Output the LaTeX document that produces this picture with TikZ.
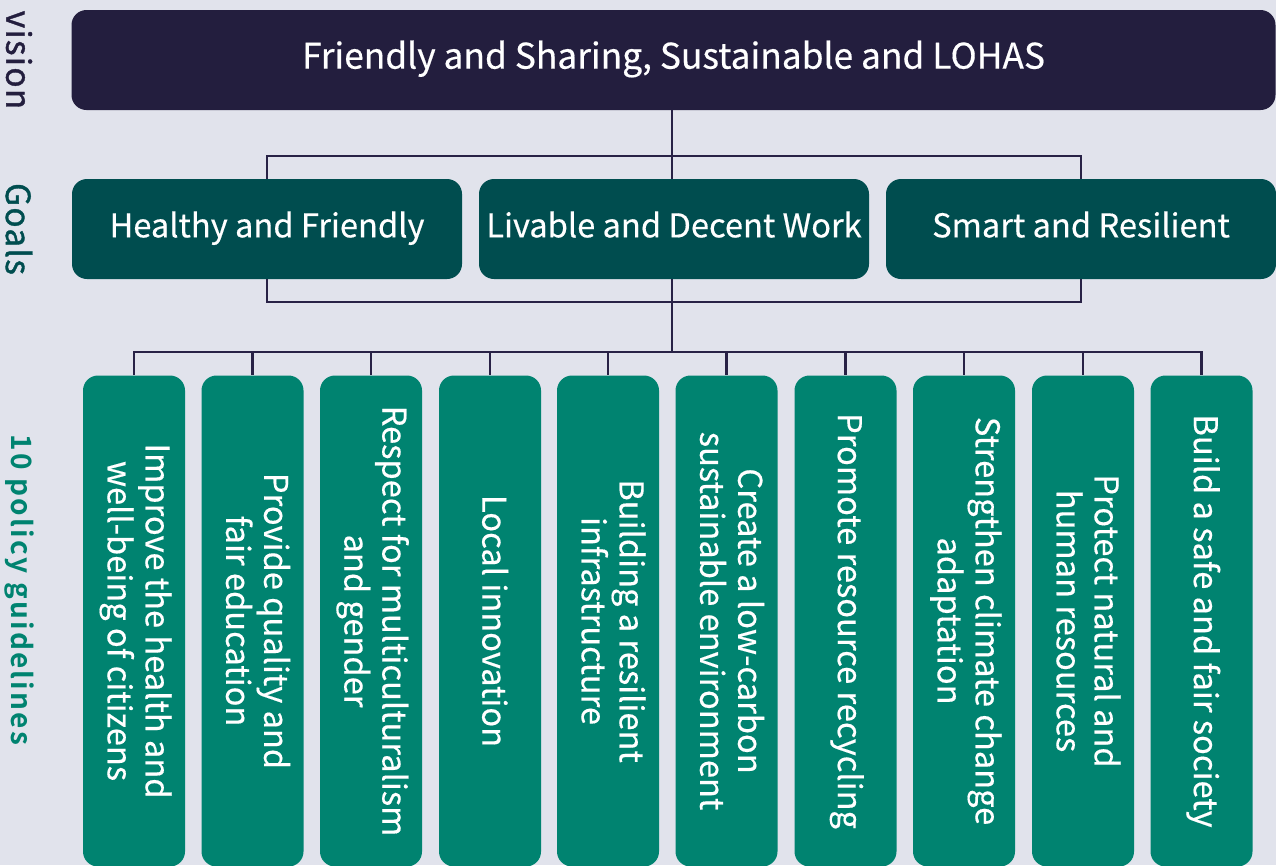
\documentclass[tikz,border=0pt]{standalone}
\usepackage{fontspec}
\setmainfont{Noto Sans CJK TC}[FakeBold=0.4]
\newfontfamily\sidefont{Noto Sans CJK TC}[FakeBold=1.2, LetterSpace=4]
\newfontfamily\sideboldfont{Noto Sans CJK TC Bold}[LetterSpace=8]
\definecolor{bgc}{RGB}{225,227,236}
\definecolor{navy}{RGB}{35,30,62}
\definecolor{goalc}{RGB}{0,77,79}
\definecolor{polc}{RGB}{0,131,112}
\definecolor{linec}{RGB}{40,34,70}
\begin{document}
\begin{tikzpicture}[x=0.75pt,y=-0.75pt,
  visionbox/.style={fill=navy, rounded corners=11.25pt, text=white, font=\fontsize{26.5}{30}\selectfont, inner sep=0pt, text height=19pt, text depth=6pt},
  goalbox/.style={fill=goalc, rounded corners=11.25pt, text=white, font=\fontsize{24.5}{28}\selectfont, inner sep=0pt, minimum width=292.5pt, minimum height=75pt, text height=18pt, text depth=5.5pt},
  polbox/.style={fill=polc, rounded corners=11.25pt, inner sep=0pt, minimum width=76.5pt, minimum height=368.25pt},
  poltext/.style={text=white, font=\fontsize{24.5}{28.5}\selectfont, align=center, rotate=-90, execute at begin node=\strut, execute at end node=\strut},
  conn/.style={draw=linec, line width=2.2pt},
  sidelabel/.style={rotate=-90}
]
\fill[bgc] (0,0) rectangle (1276,865);
\clip (0,0) rectangle (1276,865);

% vision
\node[visionbox, minimum width=903pt, minimum height=75pt] (v) at (673.5,60) {Friendly and Sharing, Sustainable and LOHAS};

% goals
\node[goalbox] (g1) at (267,229) {Healthy and Friendly};
\node[goalbox] (g2) at (674,229) {Livable and Decent Work};
\node[goalbox] (g3) at (1081,229) {Smart and Resilient};

% side labels
\node[sidelabel, text=navy, font=\sidefont\fontsize{25}{28}\selectfont] (lv) at (19,60) {vision};
\node[sidelabel, text=goalc, font=\sidefont\fontsize{25}{28}\selectfont] (lg) at (19,229) {Goals};
\node[sidelabel, text=polc, font=\sideboldfont\fontsize{21}{24}\selectfont] (lp) at (19,590) {10 policy guidelines};

% policies
\foreach \i/\cx in {1/134,2/252.5,3/371,4/490,5/608,6/726.5,7/845.5,8/964,9/1083,10/1201.5}{
  \node[polbox] (p\i) at (\cx,621) {};
}
\node[poltext] (t1) at (p1) {Improve the health and\\well-being of citizens};
\node[poltext] (t2) at (p2) {Provide quality and\\fair education};
\node[poltext] (t3) at (p3) {Respect for multiculturalism\\and gender};
\node[poltext] (t4) at (p4) {Local innovation};
\node[poltext] (t5) at (p5) {Building a resilient\\infrastructure};
\node[poltext] (t6) at (p6) {Create a low-carbon\\sustainable environment};
\node[poltext] (t7) at (p7) {Promote resource recycling};
\node[poltext] (t8) at (p8) {Strengthen climate change\\adaptation};
\node[poltext] (t9) at (p9) {Protect natural and\\human resources};
\node[poltext] (t10) at (p10) {Build a safe and fair society};

% connectors vision -> goals
\coordinate (j1) at (672,156);
\draw[conn] (v.south -| j1) -- (j1);
\draw[conn] (g1.north) |- (j1) -| (g3.north);
\draw[conn] (j1) -- (g2.north -| j1);

% goals -> junction
\coordinate (j2) at (672,302);
\draw[conn] (g1.south) |- (j2) -| (g3.south);
\draw[conn] (g2.south -| j2) -- (j2);
\coordinate (j3) at (672,352);
\draw[conn] (j2) -- (j3);
\draw[conn] (p1.north) |- (j3) -| (p10.north);
\foreach \i in {2,...,9}{
  \draw[conn] (j3 -| p\i.north) -- (p\i.north);
}
\end{tikzpicture}
\end{document}
